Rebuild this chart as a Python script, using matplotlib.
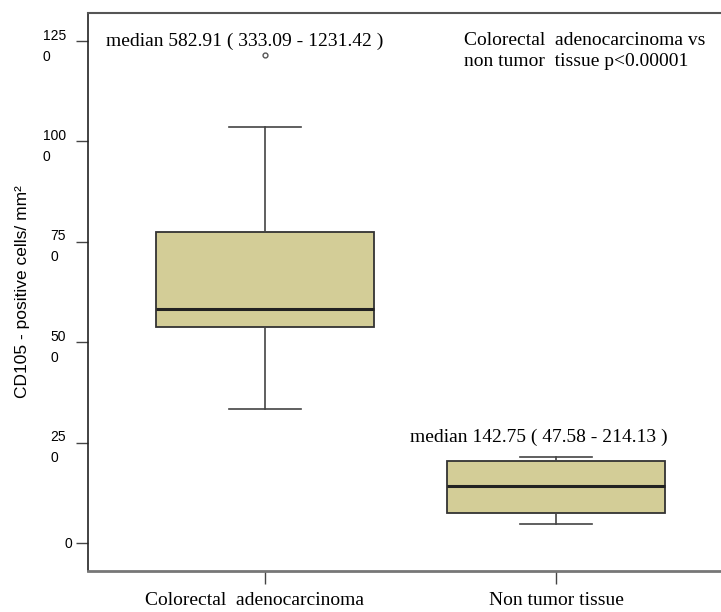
import matplotlib
matplotlib.use("Agg")
import matplotlib.pyplot as plt
from matplotlib.transforms import ScaledTranslation

# values
groups = ["Colorectal  adenocarcinoma", "Non tumor tissue"]
whislo = [333.09, 47.58]
q1 = [538, 75]
medians = [582.91, 142.75]
q3 = [774, 204]
whishi = [1037, 214.13]
fliers = [[1215], []]

y_ticks = [0, 250, 500, 750, 1000, 1250]
y_tick_labels = ["0", "25\n0", "50\n0", "75\n0", "100\n0", "125\n0"]

note_texts = [
    "median 582.91 ( 333.09 - 1231.42 )",
    "median 142.75 ( 47.58 - 214.13 )",
]

box_color = "#d3cd97"
serif = ["Liberation Serif", "DejaVu Serif"]
sans = ["Liberation Sans", "DejaVu Sans"]

fig = plt.figure(figsize=(7.21, 6.12), dpi=100)
ax = fig.add_axes([88 / 721, 41 / 612, 633 / 721, 558 / 612])

# build the stats for bxp
stats = []
for i in range(len(groups)):
    stats.append({
        "label": groups[i],
        "whislo": whislo[i],
        "q1": q1[i],
        "med": medians[i],
        "q3": q3[i],
        "whishi": whishi[i],
        "fliers": fliers[i],
    })

ax.bxp(
    stats,
    positions=[1, 2],
    widths=0.75,
    capwidths=0.25,
    patch_artist=True,
    boxprops=dict(facecolor=box_color, edgecolor="#333333", linewidth=1.3),
    whiskerprops=dict(color="#444444", linewidth=1.2),
    capprops=dict(color="#444444", linewidth=1.2),
    medianprops=dict(color="#222222", linewidth=2.2),
    flierprops=dict(marker="o", markersize=3.5, markerfacecolor="white",
                    markeredgecolor="#555555", markeredgewidth=1.0),
)

ax.set_xlim(0.392, 2.567)
ax.set_ylim(-70, 1320)

ax.set_yticks(y_ticks)
ax.set_yticklabels(y_tick_labels, family=sans, fontsize=10,
                   linespacing=1.65, multialignment="left",
                   va="center_baseline")
ax.tick_params(axis="y", length=9, width=1.0, color="#444444", pad=7)
ax.tick_params(axis="x", length=9, width=1.0, color="#444444", pad=6)
for lab in ax.get_xticklabels():
    lab.set_family(serif)
    lab.set_fontsize(14)

# the first group label sits a little left of its tick in the reference
first_lab = ax.get_xticklabels()[0]
first_lab.set_transform(first_lab.get_transform()
                        + ScaledTranslation(-10 / 100, 0, fig.dpi_scale_trans))

# the single "0" sits a bit closer to its tick
zero_lab = ax.get_yticklabels()[0]
zero_lab.set_transform(zero_lab.get_transform()
                       + ScaledTranslation(6 / 100, 0, fig.dpi_scale_trans))

ax.set_ylabel("CD105 - positive cells/ mm²", family=sans, fontsize=12.5,
              labelpad=9)

ax.spines["right"].set_visible(False)
ax.spines["left"].set_color("#222222")
ax.spines["left"].set_linewidth(1.2)
ax.spines["top"].set_color("#555555")
ax.spines["top"].set_linewidth(1.5)
ax.spines["bottom"].set_color("#777777")
ax.spines["bottom"].set_linewidth(2.0)

# annotations
ax.text(0.93, 1250, note_texts[0], family=serif, fontsize=14,
        ha="center", va="center")
ax.text(1.94, 262, note_texts[1], family=serif, fontsize=14,
        ha="center", va="center")
ax.text(0.976, 0.966, "Colorectal  adenocarcinoma vs\nnon tumor  tissue p<0.00001",
        transform=ax.transAxes, family=serif, fontsize=14,
        ha="right", va="top", multialignment="left", linespacing=1.32)

fig.savefig("out.png", dpi=100)
